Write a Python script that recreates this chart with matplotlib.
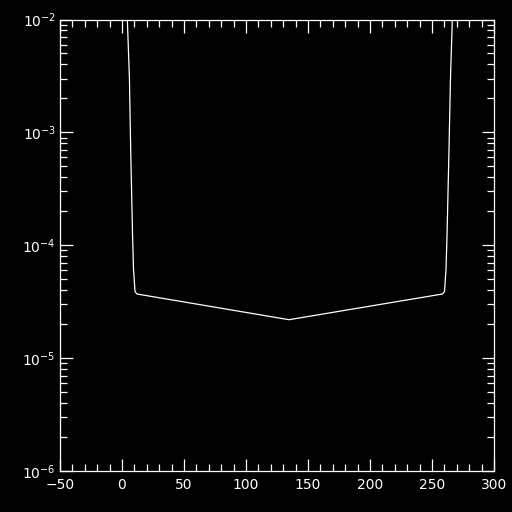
import matplotlib
matplotlib.use("Agg")
import matplotlib.pyplot as plt
import matplotlib.ticker as ticker

# curve (x, y on log scale)
x_vals = [4.3, 6.0, 7.0, 8.5, 9.3, 10.5, 12.0, 134.7, 258.5, 260.1, 261.3, 262.1, 263.7, 264.9, 266.4]
y_vals = [1.0e-2, 3.0e-3, 7.0e-4, 1.24e-4, 6.1e-5, 3.9e-5, 3.7e-5, 2.19e-5, 3.7e-5, 3.9e-5, 6.1e-5, 1.2e-4, 7.0e-4, 3.0e-3, 1.0e-2]

x_range = (-50, 300)
y_range = (1e-6, 1e-2)
x_major = [-50, 0, 50, 100, 150, 200, 250, 300]

plt.rcParams['font.size'] = '10'
fig = plt.figure(figsize=(5.12, 5.12), dpi=100, facecolor='black')
ax = fig.add_axes([60 / 512, 41 / 512, 434 / 512, 451.5 / 512])
ax.set_facecolor('black')

ax.plot(x_vals, y_vals, color='white', linewidth=0.9)

ax.set_yscale('log')
ax.set_xlim(*x_range)
ax.set_ylim(*y_range)
ax.set_xticks(x_major)
ax.xaxis.set_minor_locator(ticker.MultipleLocator(10))
ax.yaxis.set_major_locator(ticker.LogLocator(base=10))
ax.yaxis.set_minor_locator(ticker.LogLocator(base=10, subs=range(2, 10)))
ax.yaxis.set_minor_formatter(ticker.NullFormatter())

for s in ax.spines.values():
    s.set_color('white')
    s.set_linewidth(0.9)
ax.tick_params(which='both', direction='in', colors='white', top=True, right=True, width=0.9)
ax.tick_params(which='major', length=9)
ax.tick_params(which='minor', length=5)
ax.tick_params(axis='x', which='major', pad=5)
ax.tick_params(axis='y', which='major', pad=3)

plt.savefig('out.png', dpi=100, facecolor='black')
